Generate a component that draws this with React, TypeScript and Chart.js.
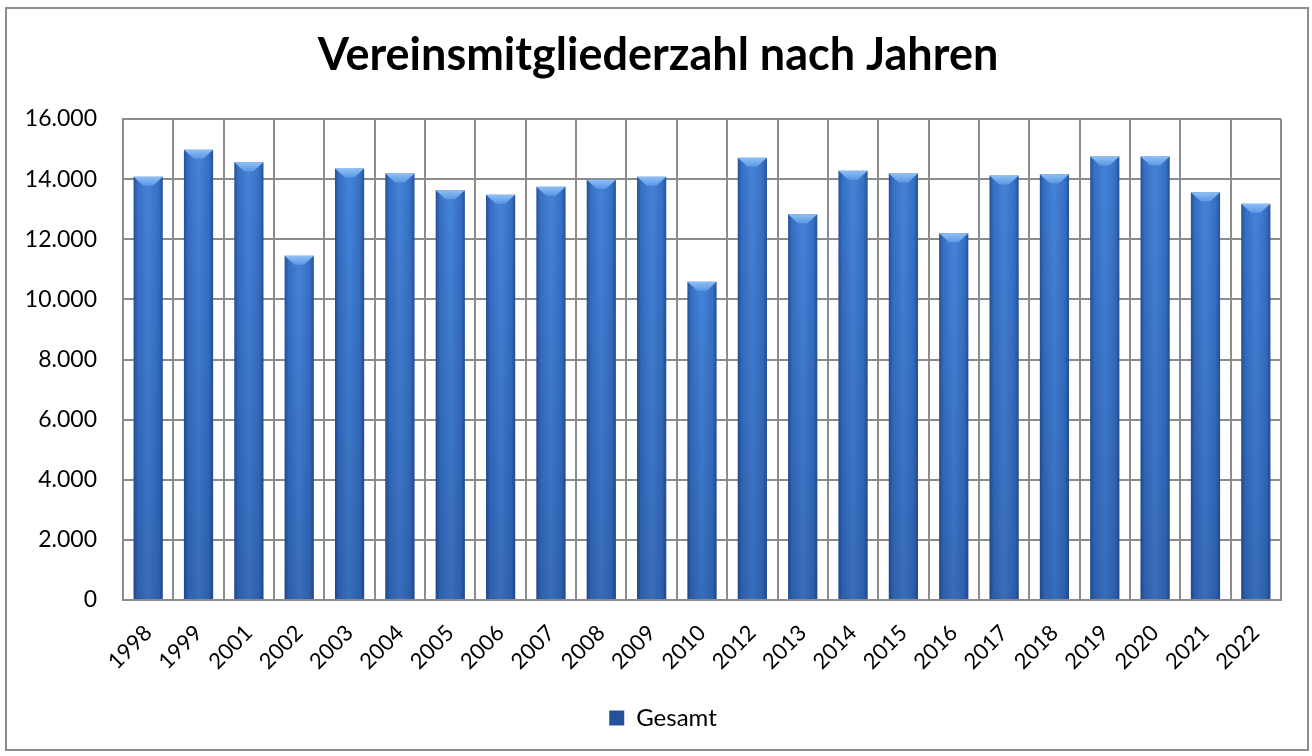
import React, { useEffect, useRef } from "react";
import { Chart, registerables } from "chart.js";

Chart.register(...registerables);

const chartTitle = "Vereinsmitgliederzahl nach Jahren";
const seriesName = "Gesamt";
const years = [
  "1998", "1999", "2001", "2002", "2003", "2004", "2005", "2006", "2007", "2008", "2009", "2010",
  "2012", "2013", "2014", "2015", "2016", "2017", "2018", "2019", "2020", "2021", "2022",
];
const members = [
  14080, 14980, 14560, 11450, 14350, 14190, 13630, 13480, 13750, 13980, 14080, 10590,
  14710, 12830, 14280, 14190, 12200, 14120, 14160, 14750, 14750, 13560, 13180,
];
const yMax = 16000;
const yStep = 2000;

const BAR_PCT = 0.58;
const FONT = "Lato, 'Open Sans', sans-serif";

const fmt = (v: number) => String(v).replace(/\B(?=(\d{3})+(?!\d))/g, ".");

const frame = {
  id: "frame",
  beforeDraw(chart: any) {
    const c = chart.ctx;
    c.save();
    c.fillStyle = "#ffffff";
    c.fillRect(0, 0, chart.width, chart.height);
    c.strokeStyle = "#8c8c8c";
    c.lineWidth = 2;
    c.strokeRect(6, 8, chart.width - 10, chart.height - 14);
    c.restore();
  },
};

const recenter = {
  id: "recenter",
  afterLayout(chart: any) {
    if (chart.titleBlock) {
      chart.titleBlock.left = 0;
      chart.titleBlock.right = 1316;
    }
    if (chart.legend) {
      const w = chart.legend.right - chart.legend.left;
      chart.legend.left = 0;
      chart.legend.right = 1326;
      if (w !== 1326) {
        // keep widths consistent for drawing
      }
    }
  },
};

const bevel = {
  id: "bevel",
  afterDatasetsDraw(chart: any) {
    const c = chart.ctx;
    const meta = chart.getDatasetMeta(0);
    c.save();
    meta.data.forEach((bar: any) => {
      const { x, y, base, width } = bar.getProps(["x", "y", "base", "width"], true);
      const l = x - width / 2;
      const r = x + width / 2;
      const vg = c.createLinearGradient(0, y, 0, base);
      vg.addColorStop(0, "rgba(10,30,80,0)");
      vg.addColorStop(1, "rgba(10,30,80,0.22)");
      c.fillStyle = vg;
      c.fillRect(l, y, width, base - y);
      const b = Math.min(9, width / 3);
      const cg = c.createLinearGradient(0, y, 0, y + b);
      cg.addColorStop(0, "#8fc0f6");
      cg.addColorStop(1, "#5b97e4");
      c.fillStyle = cg;
      c.beginPath();
      c.moveTo(l, y);
      c.lineTo(r, y);
      c.lineTo(r - b * 1.1, y + b);
      c.lineTo(l + b * 1.1, y + b);
      c.closePath();
      c.fill();
    });
    c.restore();
  },
};

export default function App() {
  const ref = useRef<HTMLCanvasElement | null>(null);

  useEffect(() => {
    document.body.style.margin = "0";
    const canvas = ref.current;
    if (!canvas) return;
    const chart = new Chart(canvas, {
      type: "bar",
      data: {
        labels: years,
        datasets: [
          {
            label: seriesName,
            data: members,
            categoryPercentage: 1,
            barPercentage: BAR_PCT,
            borderWidth: 0,
            backgroundColor: (ctx: any) => {
              const chart = ctx.chart;
              const xs = chart.scales?.x;
              if (ctx.type !== "data" || !xs || !chart.chartArea) return "#3f7bcf";
              const cx = xs.getPixelForValue(ctx.dataIndex);
              const w = (xs.width / years.length) * BAR_PCT;
              const g = chart.ctx.createLinearGradient(cx - w / 2, 0, cx + w / 2, 0);
              g.addColorStop(0, "#25509a");
              g.addColorStop(0.14, "#3670c4");
              g.addColorStop(0.5, "#4583d8");
              g.addColorStop(0.86, "#3670c4");
              g.addColorStop(1, "#25509a");
              return g;
            },
          },
        ],
      },
      options: {
        responsive: false,
        animation: false,
        maintainAspectRatio: false,
        layout: { padding: { left: 0, right: 31, top: 0, bottom: 16 } },
        plugins: {
          title: {
            display: true,
            text: chartTitle,
            color: "#000000",
            font: { family: FONT, size: 45, weight: "bold" },
            padding: { top: 28, bottom: 37 },
          },
          legend: {
            display: true,
            position: "bottom",
            labels: {
              color: "#000000",
              font: { family: FONT, size: 24 },
              boxWidth: 15,
              boxHeight: 15,
              padding: 10,
            },
          },
          tooltip: { enabled: false },
        },
        scales: {
          x: {
            offset: true,
            grid: { display: true, offset: true, color: "#8c8c8c", lineWidth: 2, drawTicks: false },
            border: { display: true, color: "#8c8c8c", width: 2 },
            ticks: {
              color: "#000000",
              font: { family: FONT, size: 22 },
              minRotation: 45,
              maxRotation: 45,
              padding: 20,
              autoSkip: false,
            },
            afterFit: (s: any) => {
              s.height = 96;
            },
          },
          y: {
            min: 0,
            max: yMax,
            grid: { color: "#8c8c8c", lineWidth: 2, drawTicks: false },
            border: { display: true, color: "#8c8c8c", width: 2 },
            ticks: {
              stepSize: yStep,
              color: "#000000",
              font: { family: FONT, size: 23 },
              padding: 26,
              callback: (v: any) => fmt(Number(v)),
            },
            afterFit: (s: any) => {
              s.width = 123;
            },
          },
        },
      },
      plugins: [frame, recenter, bevel],
    });
    return () => chart.destroy();
  }, []);

  return (
    <div style={{ width: 1312, height: 756, position: "relative" }}>
      <canvas ref={ref} width={1312} height={756} style={{ display: "block" }} />
    </div>
  );
}
